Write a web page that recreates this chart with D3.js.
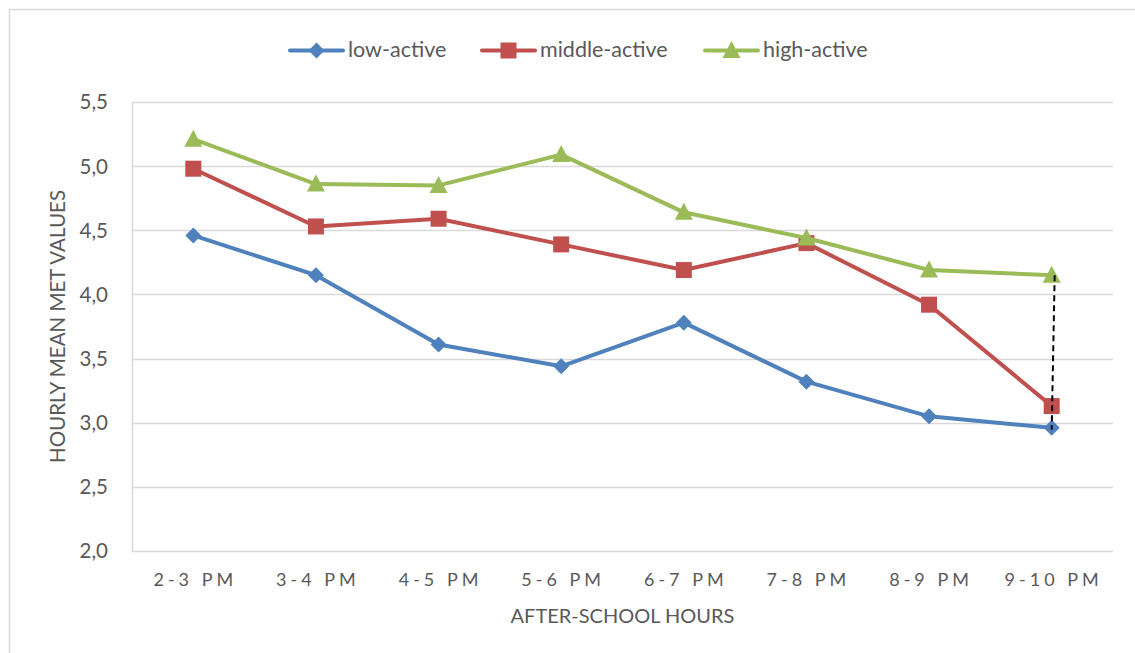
<!DOCTYPE html>
<html>
<head>
<meta charset="utf-8">
<script src="https://cdn.jsdelivr.net/npm/d3@7/dist/d3.min.js"></script>
<style>
  html, body { margin: 0; padding: 0; background: #fff; }
  svg { display: block; font-family: Lato, "Open Sans", sans-serif; }
</style>
</head>
<body>
<svg id="chart" width="1135" height="653"></svg>
<script>
// After-school hours and hourly mean MET values per activity group
const hours = ["2-3 PM", "3-4 PM", "4-5 PM", "5-6 PM", "6-7 PM", "7-8 PM", "8-9 PM", "9-10 PM"];
const lowActive    = [4.46, 4.15, 3.61, 3.44, 3.78, 3.32, 3.05, 2.96];
const middleActive = [4.98, 4.53, 4.59, 4.39, 4.19, 4.40, 3.92, 3.13];
const highActive   = [5.21, 4.86, 4.85, 5.09, 4.64, 4.44, 4.19, 4.15];
const yTicks = [2.0, 2.5, 3.0, 3.5, 4.0, 4.5, 5.0, 5.5];

const series = [
  { name: "low-active",    values: lowActive,    color: "#4F81BD", marker: "diamond" },
  { name: "middle-active", values: middleActive, color: "#C0504D", marker: "square" },
  { name: "high-active",   values: highActive,   color: "#9BBB59", marker: "triangle" }
];

const svg = d3.select("#chart");
const plot = { left: 132, right: 1113, top: 102, bottom: 551 };
const textColor = "#595959";

// outer chart frame
svg.append("rect")
  .attr("x", 9.5).attr("y", 9.5)
  .attr("width", 1135).attr("height", 700)
  .attr("fill", "none").attr("stroke", "#D9D9D9").attr("stroke-width", 1.5);

const x = d3.scaleBand().domain(hours).range([plot.left, plot.right]);
const y = d3.scaleLinear().domain([2, 5.5]).range([plot.bottom, plot.top]);
const cx = d => x(d) + x.bandwidth() / 2;

// horizontal gridlines
svg.append("g")
  .selectAll("line")
  .data(yTicks)
  .join("line")
  .attr("x1", plot.left).attr("x2", plot.right)
  .attr("y1", d => Math.round(y(d)) + 0.5).attr("y2", d => Math.round(y(d)) + 0.5)
  .attr("stroke", "#D9D9D9").attr("stroke-width", 1.5);

// left axis line
svg.append("line")
  .attr("x1", plot.left + 0.5).attr("x2", plot.left + 0.5)
  .attr("y1", y(5.5)).attr("y2", y(2))
  .attr("stroke", "#D9D9D9").attr("stroke-width", 1.5);

// y tick labels
const fmt = d => d.toFixed(1).replace(".", ",");
svg.append("g")
  .selectAll("text")
  .data(yTicks)
  .join("text")
  .attr("x", 108).attr("y", d => y(d))
  .attr("dy", "0.36em")
  .attr("text-anchor", "end")
  .attr("fill", textColor)
  .attr("font-size", 20.5)
  .text(fmt);

// x tick labels (letter-spaced)
svg.append("g")
  .selectAll("text")
  .data(hours)
  .join("text")
  .attr("x", d => cx(d) + 2)
  .attr("y", 586)
  .attr("text-anchor", "middle")
  .attr("fill", textColor)
  .attr("font-size", 18)
  .attr("letter-spacing", "4px")
  .text(d => d);

// axis titles
svg.append("text")
  .attr("x", (plot.left + plot.right) / 2).attr("y", 623)
  .attr("text-anchor", "middle")
  .attr("fill", textColor).attr("font-size", 20)
  .text("AFTER-SCHOOL HOURS");

svg.append("text")
  .attr("transform", `translate(65, ${(plot.top + plot.bottom) / 2}) rotate(-90)`)
  .attr("text-anchor", "middle")
  .attr("fill", textColor).attr("font-size", 20.5)
  .text("HOURLY MEAN MET VALUES");

// marker shapes
function markerPath(type) {
  if (type === "diamond") return "M0,-8L8,0L0,8L-8,0Z";
  if (type === "square") return "M-8,-8H8V8H-8Z";
  return "M0,-9.5L9,7.5H-9Z";
}

const line = d3.line().x((d, i) => cx(hours[i])).y(d => y(d));

series.forEach(s => {
  const g = svg.append("g");
  g.append("path")
    .attr("d", line(s.values))
    .attr("fill", "none")
    .attr("stroke", s.color)
    .attr("stroke-width", 4)
    .attr("stroke-linejoin", "round")
    .attr("stroke-linecap", "round");
  g.selectAll("path.m")
    .data(s.values)
    .join("path")
    .attr("class", "m")
    .attr("transform", (d, i) => `translate(${cx(hours[i])},${y(d)})`)
    .attr("d", markerPath(s.marker))
    .attr("fill", s.color);
});

// dashed span between high-active and low-active at the last hour
const last = hours.length - 1;
svg.append("line")
  .attr("x1", cx(hours[last]) + 3).attr("y1", y(highActive[last]))
  .attr("x2", cx(hours[last])).attr("y2", y(lowActive[last]) + 2)
  .attr("stroke", "#000").attr("stroke-width", 2)
  .attr("stroke-dasharray", "6,4");

// legend
const legendItems = [
  { s: series[0], x0: 290 },
  { s: series[1], x0: 482 },
  { s: series[2], x0: 705 }
];
const lg = svg.append("g");
legendItems.forEach(({ s, x0 }) => {
  const ly = 50.5;
  lg.append("line")
    .attr("x1", x0).attr("x2", x0 + 53)
    .attr("y1", ly).attr("y2", ly)
    .attr("stroke", s.color).attr("stroke-width", 4)
    .attr("stroke-linecap", "round");
  lg.append("path")
    .attr("transform", `translate(${x0 + 26.5},${ly})`)
    .attr("d", markerPath(s.marker))
    .attr("fill", s.color);
  lg.append("text")
    .attr("x", x0 + 58).attr("y", 57)
    .attr("fill", textColor).attr("font-size", 21.5)
    .text(s.name);
});
</script>
</body>
</html>
